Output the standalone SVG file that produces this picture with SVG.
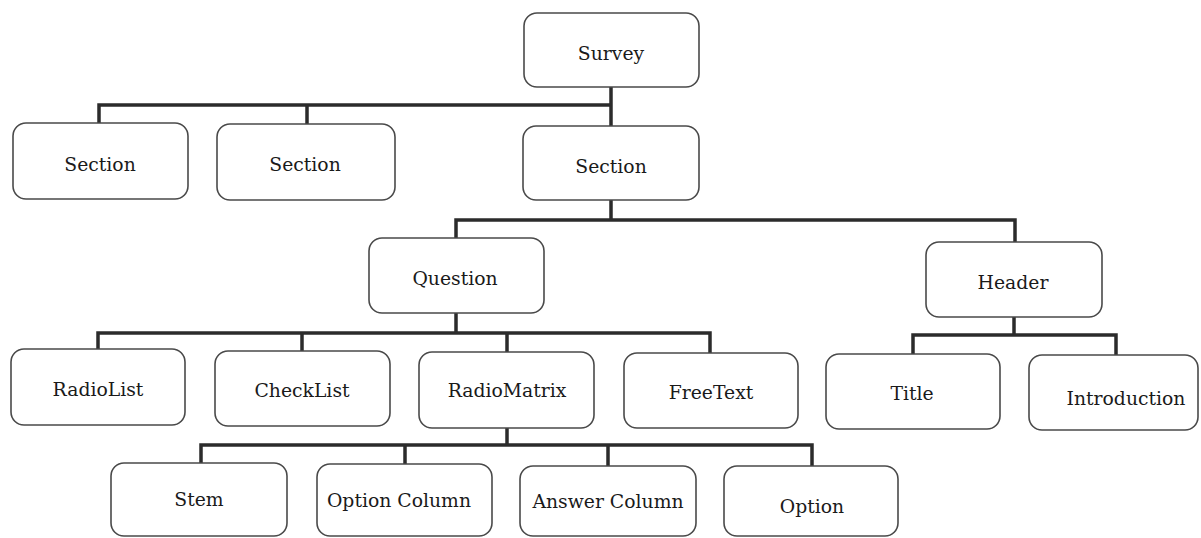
<svg xmlns="http://www.w3.org/2000/svg" width="1201" height="538" viewBox="0 0 1201 538">
  <style>
    .box { fill: #ffffff; stroke: #4a4a4a; stroke-width: 1.6; }
    .label { font-family: "DejaVu Serif", "Liberation Serif", serif; font-size: 18.8px; fill: #1a1a1a; text-anchor: middle; dominant-baseline: central; }
    .wire { fill: none; stroke: #2b2b2b; stroke-width: 3.5; stroke-linejoin: miter; stroke-linecap: square; }
  </style>
  <rect width="1201" height="538" fill="#ffffff"/>

  <!-- tree connectors -->
  <g id="connectors">
    <!-- Survey to sections -->
    <path class="wire" d="M611,88 V125 M99,122 V105 H611 M307,123 V105"/>
    <!-- Section to Question / Header -->
    <path class="wire" d="M611,201 V220 M456,237 V220 H1015 V241"/>
    <!-- Question to question types -->
    <path class="wire" d="M456,314 V333 M98,348 V333 H710 V352 M302,350 V333 M507,351 V333"/>
    <!-- Header to Title / Introduction -->
    <path class="wire" d="M1014,318 V335 M913,353 V335 H1116 V354"/>
    <!-- RadioMatrix to its parts -->
    <path class="wire" d="M507,429 V445 M201,462 V445 H812 V465 M405,463 V445 M608,465 V445"/>
  </g>

  <g id="survey">
    <rect class="box" x="524" y="13" width="175" height="74" rx="13"/>
    <text class="label" x="611" y="53">Survey</text>
  </g>
  <g id="section-1">
    <rect class="box" x="13" y="123" width="175" height="76" rx="13"/>
    <text class="label" x="100" y="164">Section</text>
  </g>
  <g id="section-2">
    <rect class="box" x="217" y="124" width="178" height="76" rx="13"/>
    <text class="label" x="305" y="164">Section</text>
  </g>
  <g id="section-3">
    <rect class="box" x="523" y="126" width="176" height="74" rx="13"/>
    <text class="label" x="611" y="166">Section</text>
  </g>
  <g id="question">
    <rect class="box" x="369" y="238" width="175" height="75" rx="13"/>
    <text class="label" x="455" y="278">Question</text>
  </g>
  <g id="header">
    <rect class="box" x="926" y="242" width="176" height="75" rx="13"/>
    <text class="label" x="1013" y="282">Header</text>
  </g>
  <g id="radiolist">
    <rect class="box" x="11" y="349" width="174" height="76" rx="13"/>
    <text class="label" x="98" y="389">RadioList</text>
  </g>
  <g id="checklist">
    <rect class="box" x="215" y="351" width="175" height="75" rx="13"/>
    <text class="label" x="302" y="390">CheckList</text>
  </g>
  <g id="radiomatrix">
    <rect class="box" x="419" y="352" width="175" height="76" rx="13"/>
    <text class="label" x="507" y="390">RadioMatrix</text>
  </g>
  <g id="freetext">
    <rect class="box" x="624" y="353" width="174" height="75" rx="13"/>
    <text class="label" x="711" y="392">FreeText</text>
  </g>
  <g id="title">
    <rect class="box" x="826" y="354" width="174" height="75" rx="13"/>
    <text class="label" x="912" y="393">Title</text>
  </g>
  <g id="introduction">
    <rect class="box" x="1029" y="355" width="169" height="75" rx="13"/>
    <text class="label" x="1126" y="398">Introduction</text>
  </g>
  <g id="stem">
    <rect class="box" x="111" y="463" width="176" height="73" rx="13"/>
    <text class="label" x="199" y="499">Stem</text>
  </g>
  <g id="option-column">
    <rect class="box" x="317" y="464" width="175" height="72" rx="13"/>
    <text class="label" x="399" y="500">Option Column</text>
  </g>
  <g id="answer-column">
    <rect class="box" x="520" y="466" width="176" height="70" rx="13"/>
    <text class="label" x="608" y="501">Answer Column</text>
  </g>
  <g id="option">
    <rect class="box" x="724" y="466" width="174" height="70" rx="13"/>
    <text class="label" x="812" y="506">Option</text>
  </g>
</svg>
